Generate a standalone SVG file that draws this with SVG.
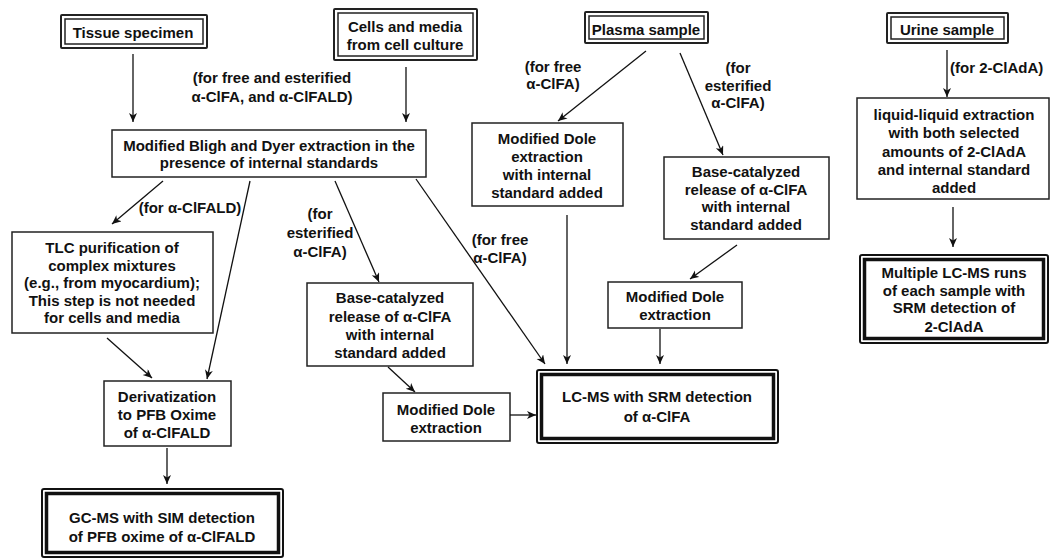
<svg xmlns="http://www.w3.org/2000/svg" width="1051" height="558" viewBox="0 0 1051 558">
<style>
  text { font-family: "Liberation Sans", Arial, sans-serif; font-size: 15px; font-weight: bold; fill: #111; text-anchor: middle; }
  .box { fill: #fff; stroke: #222; stroke-width: 1.5; }
  .dbo { fill: #fff; stroke: #222; stroke-width: 2; }
  .dbi { fill: none; stroke: #222; stroke-width: 1.5; }
  .tko { fill: #fff; stroke: #111; stroke-width: 2; }
  .tki { fill: none; stroke: #111; stroke-width: 3.5; }
  .conn line { stroke: #111; stroke-width: 1.3; marker-end: url(#ah); }
  .lbl { }
</style>
<defs>
  <marker id="ah" markerUnits="userSpaceOnUse" markerWidth="10" markerHeight="9" refX="9" refY="4" orient="auto">
    <path d="M0,0 L9,4 L0,8 L2.5,4 z" fill="#111"/>
  </marker>
</defs>
<rect width="1051" height="558" fill="#fff"/>

<g id="tissue">
  <rect class="dbo" x="61" y="15" width="146" height="33" rx="1"/>
  <rect class="dbi" x="65" y="19" width="138" height="25"/>
  <text x="133" y="38">Tissue specimen</text>
</g>
<g id="cells">
  <rect class="dbo" x="334" y="9" width="143" height="51" rx="1"/>
  <rect class="dbi" x="338" y="13" width="135" height="43"/>
  <text x="405" y="32">Cells and media</text>
  <text x="405" y="50">from cell culture</text>
</g>
<g id="plasma">
  <rect class="dbo" x="585" y="12" width="123" height="31" rx="1"/>
  <rect class="dbi" x="589" y="16" width="115" height="23"/>
  <text x="646" y="35">Plasma sample</text>
</g>
<g id="urine">
  <rect class="dbo" x="887" y="13" width="121" height="30" rx="1"/>
  <rect class="dbi" x="891" y="17" width="113" height="22"/>
  <text x="947" y="35">Urine sample</text>
</g>
<g id="bligh">
  <rect class="box" x="112" y="130" width="314" height="47"/>
  <text x="269" y="151">Modified Bligh and Dyer extraction in the</text>
  <text x="269" y="168">presence of internal standards</text>
</g>
<g id="tlc">
  <rect class="box" x="12" y="232" width="201" height="101"/>
  <text x="112" y="253">TLC purification of</text>
  <text x="112" y="271">complex mixtures</text>
  <text x="112" y="288">(e.g., from myocardium);</text>
  <text x="112" y="306">This step is not needed</text>
  <text x="112" y="323">for cells and media</text>
</g>
<g id="deriv">
  <rect class="box" x="104" y="381" width="127" height="65"/>
  <text x="167" y="402">Derivatization</text>
  <text x="167" y="420">to PFB Oxime</text>
  <text x="167" y="438">of α-ClFALD</text>
</g>
<g id="gcms">
  <rect class="tko" x="42" y="489" width="241" height="68" rx="2"/>
  <rect class="tki" x="46.5" y="493.5" width="232" height="59"/>
  <text x="162" y="523">GC-MS with SIM detection</text>
  <text x="162" y="542">of PFB oxime of α-ClFALD</text>
</g>
<g id="base-left">
  <rect class="box" x="307" y="283" width="166" height="83"/>
  <text x="390" y="303">Base-catalyzed</text>
  <text x="390" y="322">release of α-ClFA</text>
  <text x="390" y="340">with internal</text>
  <text x="390" y="358">standard added</text>
</g>
<g id="dole-left">
  <rect class="box" x="383" y="393" width="127" height="48"/>
  <text x="446" y="415">Modified Dole</text>
  <text x="446" y="433">extraction</text>
</g>
<g id="lcms">
  <rect class="tko" x="537" y="370" width="241" height="73" rx="2"/>
  <rect class="tki" x="541.5" y="374.5" width="232" height="64"/>
  <text x="657" y="402">LC-MS with SRM detection</text>
  <text x="657" y="422">of α-ClFA</text>
</g>
<g id="dole-mid">
  <rect class="box" x="472" y="123" width="151" height="83"/>
  <text x="547" y="144">Modified Dole</text>
  <text x="547" y="162">extraction</text>
  <text x="547" y="180">with internal</text>
  <text x="547" y="198">standard added</text>
</g>
<g id="base-right">
  <rect class="box" x="664" y="157" width="165" height="82"/>
  <text x="746" y="177">Base-catalyzed</text>
  <text x="746" y="195">release of α-ClFA</text>
  <text x="746" y="212">with internal</text>
  <text x="746" y="230">standard added</text>
</g>
<g id="dole-right">
  <rect class="box" x="608" y="282" width="134" height="46"/>
  <text x="675" y="302">Modified Dole</text>
  <text x="675" y="320">extraction</text>
</g>
<g id="liquid">
  <rect class="box" x="857" y="98" width="192" height="101"/>
  <text x="954" y="120">liquid-liquid extraction</text>
  <text x="954" y="138">with both selected</text>
  <text x="954" y="157">amounts of 2-ClAdA</text>
  <text x="954" y="175">and internal standard</text>
  <text x="954" y="193">added</text>
</g>
<g id="multiple">
  <rect class="tko" x="860" y="255" width="188" height="88" rx="2"/>
  <rect class="tki" x="864.5" y="259.5" width="179" height="79"/>
  <text x="954" y="278">Multiple LC-MS runs</text>
  <text x="954" y="296">of each sample with</text>
  <text x="954" y="313">SRM detection of</text>
  <text x="954" y="332">2-ClAdA</text>
</g>

<g id="connectors" class="conn">
  <line x1="133" y1="54" x2="133" y2="122"/>
  <line x1="406" y1="67" x2="406" y2="122"/>
  <line x1="163" y1="181" x2="112" y2="224"/>
  <line x1="250" y1="181" x2="207" y2="379"/>
  <line x1="335" y1="181" x2="379" y2="282"/>
  <line x1="416" y1="179" x2="545" y2="364"/>
  <line x1="107" y1="338" x2="152" y2="378"/>
  <line x1="167" y1="448" x2="167" y2="484"/>
  <line x1="388" y1="367" x2="415" y2="392"/>
  <line x1="510" y1="415" x2="536" y2="415"/>
  <line x1="646" y1="51" x2="558" y2="121"/>
  <line x1="567" y1="215" x2="567" y2="364"/>
  <line x1="680" y1="53" x2="723" y2="155"/>
  <line x1="737" y1="245" x2="690" y2="279"/>
  <line x1="660" y1="329" x2="660" y2="364"/>
  <line x1="947" y1="50" x2="947" y2="97"/>
  <line x1="953" y1="207" x2="953" y2="247"/>
</g>

<g id="labels">
  <text x="272" y="83">(for free and esterified</text>
  <text x="272" y="102">α-ClFA, and α-ClFALD)</text>
  <text x="190" y="213">(for α-ClFALD)</text>
  <text x="320" y="219">(for</text>
  <text x="320" y="238">esterified</text>
  <text x="320" y="257">α-ClFA)</text>
  <text x="500" y="245">(for free</text>
  <text x="500" y="263">α-ClFA)</text>
  <text x="553" y="72">(for free</text>
  <text x="553" y="89">α-ClFA)</text>
  <text x="738" y="73">(for</text>
  <text x="738" y="91">esterified</text>
  <text x="738" y="108">α-ClFA)</text>
  <text x="950" y="73" style="text-anchor:start">(for 2-ClAdA)</text>
</g>
</svg>
